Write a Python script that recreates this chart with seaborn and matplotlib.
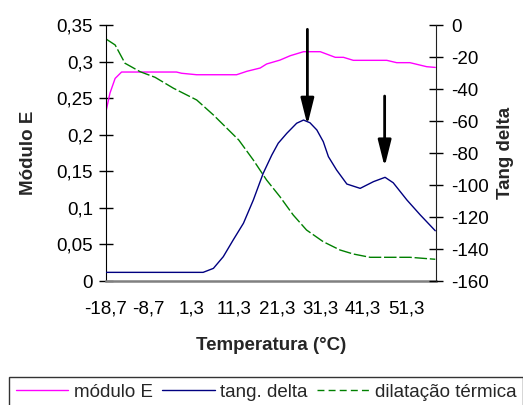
import matplotlib
matplotlib.use("Agg")
import matplotlib.pyplot as plt
import seaborn as sns
import pandas as pd
from matplotlib.lines import Line2D
from matplotlib.ticker import FuncFormatter

# módulo E (eixo esquerdo)
temp_mod = [-18.7, -17.7, -16.5, -15.0, -2.2, -1.0, 2.5, 11.8, 14.2, 17.3, 18.8, 21.9,
            24.3, 27.4, 31.3, 34.8, 36.7, 39.0, 46.8, 49.1, 52.2, 56.1, 58.1]
modulo_e = [0.230, 0.257, 0.277, 0.2857, 0.2857, 0.284, 0.282, 0.282, 0.2867, 0.2912, 0.2967,
            0.302, 0.308, 0.3135, 0.3135, 0.3058, 0.3058, 0.3017, 0.3017, 0.2985, 0.2985,
            0.293, 0.292]

# tang. delta (eixo direito)
temp_tan = [-18.7, 4.0, 6.4, 8.7, 11.0, 13.4, 15.7, 18.0, 20.0, 21.5, 23.5, 25.8, 27.4,
            28.9, 30.5, 32.0, 33.2, 35.1, 37.5, 40.6, 43.7, 46.4, 48.3, 51.5, 54.6, 58.1]
tang_delta = [-154.6, -154.6, -152.1, -144.8, -134.4, -123.9, -109.4, -92.7, -81.3, -73.9,
              -67.7, -61.4, -59.4, -61.1, -65.6, -72.9, -82.3, -90.6, -99.4, -102.1,
              -97.9, -95.2, -98.6, -109.4, -118.7, -128.6]

# dilatação térmica (eixo esquerdo)
temp_dil = [-18.5, -16.5, -14.2, -10.7, -7.2, -2.9, 2.5, 6.4, 12.3, 15.7, 18.8, 21.9,
            25.0, 28.1, 32.0, 35.9, 39.0, 42.9, 52.2, 58.1]
dilatacao = [0.3304, 0.3227, 0.2977, 0.2862, 0.2785, 0.2635, 0.2475, 0.227, 0.1928,
             0.1654, 0.138, 0.1153, 0.0902, 0.0697, 0.0537, 0.0424, 0.0369, 0.0324,
             0.0324, 0.0297]

x_ticks = [-18.7, -8.7, 1.3, 11.3, 21.3, 31.3, 41.3, 51.3]
left_ticks = [0, 0.05, 0.1, 0.15, 0.2, 0.25, 0.3, 0.35]
right_ticks = [-160, -140, -120, -100, -80, -60, -40, -20, 0]

# setas (x, topo, ponta) em unidades do eixo direito
arrows = [(28.3, -2.7, -62.5), (46.3, -44.4, -88.6)]

sns.set_style("white")
plt.rcParams["font.family"] = ["Liberation Sans", "DejaVu Sans"]
fs = 13.5

fig = plt.figure(figsize=(5.23, 4.05), dpi=100)
ax = fig.add_axes([105.7 / 523, 1 - 281 / 405, 330 / 523, 256 / 405])
ax2 = ax.twinx()

df_mod = pd.DataFrame({"t": temp_mod, "v": modulo_e})
df_tan = pd.DataFrame({"t": temp_tan, "v": tang_delta})
df_dil = pd.DataFrame({"t": temp_dil, "v": dilatacao})

sns.lineplot(data=df_mod, x="t", y="v", ax=ax, color="#ff00ff", linewidth=1)
sns.lineplot(data=df_dil, x="t", y="v", ax=ax, color="#008000", linewidth=1)
ax.lines[-1].set_dashes([9, 2])
sns.lineplot(data=df_tan, x="t", y="v", ax=ax2, color="#000080", linewidth=1)

ax.set_xlim(-18.7, 58.2)
ax.set_ylim(0, 0.35)
ax2.set_ylim(-160, 0)
ax.set_xticks(x_ticks)
ax.set_yticks(left_ticks)
ax2.set_yticks(right_ticks)

comma = FuncFormatter(lambda v, p: f"{v:g}".replace(".", ","))
ax.xaxis.set_major_formatter(comma)
ax.yaxis.set_major_formatter(comma)
ax2.yaxis.set_major_formatter(FuncFormatter(lambda v, p: f"{v:g}"))

for a in (ax, ax2):
    a.spines["top"].set_visible(False)
    a.tick_params(direction="inout", length=10, width=1, labelsize=fs, colors="black")
ax.tick_params(axis="y", pad=4)
ax.tick_params(axis="x", pad=9, color="#404040")
ax2.tick_params(axis="y", pad=6)
ax.spines["bottom"].set_color("#808080")
ax.spines["bottom"].set_linewidth(1.8)
ax.spines["left"].set_color("black")
ax2.spines["right"].set_color("#202020")
ax2.spines["bottom"].set_visible(False)
ax2.spines["left"].set_visible(False)
ax.spines["right"].set_visible(False)

ax.set_xlabel("Temperatura (°C)", fontsize=fs, fontweight="bold", labelpad=14)
ax.set_ylabel("Módulo E", fontsize=fs, fontweight="bold", labelpad=14)
ax2.set_ylabel("Tang delta", fontsize=fs, fontweight="bold", labelpad=6)

for x, top, tip in arrows:
    ax2.annotate("", xy=(x, tip), xytext=(x, top), annotation_clip=False,
                 arrowprops=dict(arrowstyle="-|>,head_length=1.6,head_width=0.4",
                                 color="black", linewidth=2, shrinkA=0, shrinkB=0))

handles = [
    Line2D([], [], color="#ff00ff", linewidth=1),
    Line2D([], [], color="#000080", linewidth=1),
    Line2D([], [], color="#008000", linewidth=1, dashes=[5, 3]),
]
labels = ["módulo E", "tang. delta", "dilatação térmica"]
leg = fig.legend(handles, labels, loc="upper left", bbox_to_anchor=(9 / 523, 1 - 377 / 405),
                 ncol=3, fontsize=fs, frameon=True, fancybox=False, edgecolor="black",
                 handlelength=2.8, handletextpad=0.3, columnspacing=0.5,
                 borderpad=0.35, borderaxespad=0)
leg.get_frame().set_linewidth(1)

fig.savefig("out.png", dpi=100)
